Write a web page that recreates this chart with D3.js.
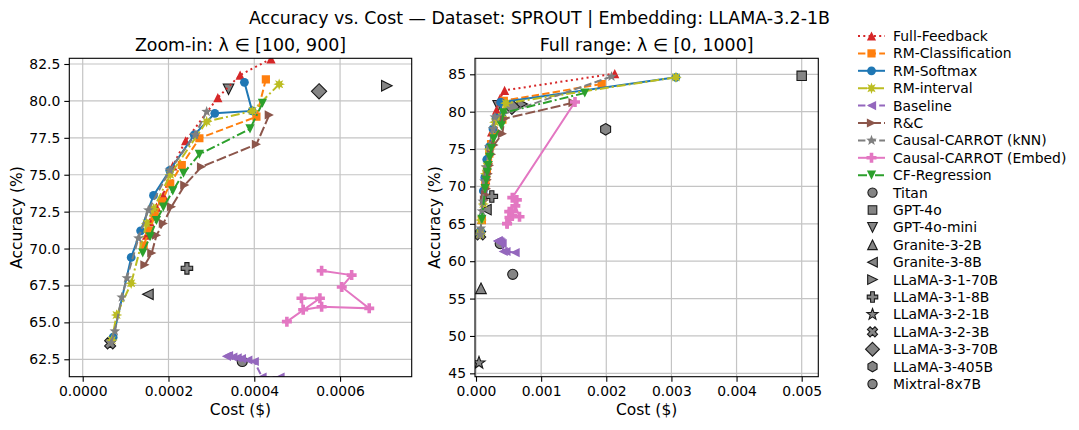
<!DOCTYPE html>
<html><head><meta charset="utf-8">
<script src="https://cdn.jsdelivr.net/npm/d3@7"></script>
<style>body{margin:0;background:#fff;} text{font-family:"DejaVu Sans",sans-serif;fill:#000;}</style>
</head><body><svg id="c" width="1079" height="430"></svg>
<script>
// ---------------- DATA ----------------
// lambda values: 0,100,...,1000 ; left panel shows lambda 100..900
const lambdas = [0,100,200,300,400,500,600,700,800,900,1000];
// each point: [cost ($), accuracy (%)]
const fullFeedback = [[0.00213,85.1],[0.000439,82.85],[0.000367,81.75],[0.000315,80.22],[0.00024,77.3],[0.00021,75.6],[0.000188,73.6],[0.000172,72.8],[0.000157,71.8],[0.000149,70.9],[0.000085,65.6]];
const rmClassification = [[0.00193,83.7],[0.000427,81.46],[0.000405,78.93],[0.000272,77.47],[0.000231,75.66],[0.000204,74.4],[0.000185,73.2],[0.000168,72.2],[0.000155,71.2],[0.000142,70.2],[0.00009,65.5]];
const rmSoftmax = [[0.00307,84.6],[0.000377,81.26],[0.000395,79.32],[0.000308,79.16],[0.00026,77.7],[0.000203,75.3],[0.000165,73.6],[0.000135,71.2],[0.000113,69.4],[0.000071,64.0],[0.000065,63.7]];
const rmInterval = [[0.00307,84.6],[0.000458,81.13],[0.000396,79.32],[0.000289,78.6],[0.000204,75.0],[0.000165,72.7],[0.000149,71.7],[0.000113,67.65],[0.000079,65.5],[0.000068,63.8],[0.000065,63.6]];
const baseline = [[0.0006,61.15],[0.00046,61.3],[0.000418,61.3],[0.0004,62.35],[0.000385,62.45],[0.00037,62.55],[0.00036,62.6],[0.00035,62.65],[0.00034,62.75],[0.000335,62.7],[0.00033,62.7]];
const rAndC = [[0.00149,81.2],[0.000435,79.05],[0.000405,77.06],[0.000277,75.54],[0.000238,74.3],[0.000207,72.83],[0.000188,71.7],[0.000172,70.9],[0.000161,69.7],[0.000145,68.9],[0.00013,68.2]];
const carrotKnn = [[0.00208,84.7],[0.000289,79.27],[0.000262,77.7],[0.000203,75.3],[0.000153,72.6],[0.00013,70.7],[0.000103,68.0],[0.000091,66.7],[0.000075,64.4],[0.000066,63.6],[0.000064,63.5]];
const carrotEmbed = [[0.00152,81.3],[0.000557,68.5],[0.000627,68.2],[0.000604,67.4],[0.000668,65.95],[0.000557,66.06],[0.000514,65.85],[0.00051,66.63],[0.000553,66.63],[0.000476,65.05],[0.000478,65.0]];
const cfRegression = [[0.00167,82.5],[0.000419,79.84],[0.00039,78.1],[0.000272,76.38],[0.000235,75.1],[0.00021,73.9],[0.000188,72.8],[0.000172,71.9],[0.000157,70.8],[0.00014,69.7],[0.00009,65.6]];

const seriesNames = ["Full-Feedback","RM-Classification","RM-Softmax","RM-interval","Baseline","R&C","Causal-CARROT (kNN)","Causal-CARROT (Embed)","CF-Regression"];
const seriesData = [fullFeedback,rmClassification,rmSoftmax,rmInterval,baseline,rAndC,carrotKnn,carrotEmbed,cfRegression];

const modelNames = ["Titan","GPT-4o","GPT-4o-mini","Granite-3-2B","Granite-3-8B","LLaMA-3-1-70B","LLaMA-3-1-8B","LLaMA-3-2-1B","LLaMA-3-2-3B","LLaMA-3-3-70B","LLaMA-3-405B","Mixtral-8x7B"];
const modelCost = [0.000564,0.005,0.00034,0.000077,0.000152,0.000709,0.000243,0.000046,0.000064,0.000551,0.00199,0.000372];
const modelAcc = [58.24,84.8,80.79,56.37,66.9,81.03,68.66,46.4,63.58,80.65,77.64,62.35];

const leftXTicks = [0,0.0002,0.0004,0.0006];
const leftYTicks = [62.5,65,67.5,70,72.5,75,77.5,80,82.5];
const rightXTicks = [0,0.001,0.002,0.003,0.004,0.005];
const rightYTicks = [45,50,55,60,65,70,75,80,85];

// ---------------- STYLE ----------------
const seriesStyle = [
 {color:"#d62728", dash:"2,3.3", marker:"triUp"},
 {color:"#ff7f0e", dash:"7.4,3.2", marker:"square"},
 {color:"#1f77b4", dash:null, marker:"circle"},
 {color:"#bcbd22", dash:"9,3,2,3", marker:"star8"},
 {color:"#9467bd", dash:"7.4,3.2", marker:"triLeft"},
 {color:"#8c564b", dash:"10,3", marker:"triRight"},
 {color:"#7f7f7f", dash:"7.4,3.2", marker:"star5"},
 {color:"#e377c2", dash:null, marker:"plus"},
 {color:"#2ca02c", dash:"9,3,2,3", marker:"triDown"},
];
const modelMarkers = ["circle","square","triDown","triUp","triLeft","triRight","plus","star5","xfill","diamond","hexagon","circle"];

function poly(pts){return "M"+pts.map(p=>p[0].toFixed(2)+","+p[1].toFixed(2)).join("L")+"Z";}
function starPts(n,ro,ri){const p=[];for(let i=0;i<2*n;i++){const r=i%2?ri:ro;const a=-Math.PI/2+i*Math.PI/n;p.push([r*Math.cos(a),r*Math.sin(a)]);}return p;}
function markerPath(t,k){
  const s=4.6*k;
  switch(t){
    case "circle": {const r=4.4*k;return `M${r},0A${r},${r} 0 1,1 ${-r},0A${r},${r} 0 1,1 ${r},0Z`;}
    case "square": {const h=4.1*k;return poly([[-h,-h],[h,-h],[h,h],[-h,h]]);}
    case "triUp": return poly([[0,-s],[s,s],[-s,s]]);
    case "triDown": return poly([[0,s],[s,-s],[-s,-s]]);
    case "triLeft": return poly([[-s,0],[s,-s],[s,s]]);
    case "triRight": return poly([[s,0],[-s,-s],[-s,s]]);
    case "star5": return poly(starPts(5,5.6*k,2.3*k));
    case "star8": return poly(starPts(8,5.8*k,2.9*k));
    case "diamond": {const d=6.6*k;return poly([[0,-d],[d,0],[0,d],[-d,0]]);}
    case "hexagon": {const p=[];for(let i=0;i<6;i++){const a=-Math.PI/2+i*Math.PI/3;p.push([5*k*Math.cos(a),5*k*Math.sin(a)]);}return poly(p);}
    case "plus": {const a=5*k,b=1.8*k;return poly([[-b,-a],[b,-a],[b,-b],[a,-b],[a,b],[b,b],[b,a],[-b,a],[-b,b],[-a,b],[-a,-b],[-b,-b]]);}
    case "xfill": {const a=5*k,b=1.8*k;const pts=[[-b,-a],[b,-a],[b,-b],[a,-b],[a,b],[b,b],[b,a],[-b,a],[-b,b],[-a,b],[-a,-b],[-b,-b]];const c=Math.SQRT1_2;return poly(pts.map(p=>[(p[0]-p[1])*c,(p[0]+p[1])*c]));}
  }
}

const svg = d3.select("#c");

// suptitle
svg.append("text").attr("x",539.5).attr("y",24).attr("text-anchor","middle").style("font-size","17.4px")
  .text("Accuracy vs. Cost — Dataset: SPROUT | Embedding: LLAMA-3.2-1B");

function panel(opt){
  const {x0,x1,y0,y1,xdom,ydom,xticks,yticks,xfmt,yfmt,title,ylabelX,first,last,id} = opt;
  const x = d3.scaleLinear().domain(xdom).range([x0,x1]);
  const y = d3.scaleLinear().domain(ydom).range([y1,y0]);
  const g = svg.append("g");
  g.append("clipPath").attr("id",id).append("rect").attr("x",x0).attr("y",y0).attr("width",x1-x0).attr("height",y1-y0);
  // grid
  g.append("g").selectAll("line").data(xticks).join("line").attr("x1",d=>x(d)).attr("x2",d=>x(d)).attr("y1",y0).attr("y2",y1)
    .attr("stroke","#c4c4c4").attr("stroke-width",1.2);
  g.append("g").selectAll("line").data(yticks).join("line").attr("y1",d=>y(d)).attr("y2",d=>y(d)).attr("x1",x0).attr("x2",x1)
    .attr("stroke","#c4c4c4").attr("stroke-width",1.2);
  // axes
  const ax = d3.axisBottom(x).tickValues(xticks).tickFormat(xfmt).tickSize(5).tickPadding(4);
  const ay = d3.axisLeft(y).tickValues(yticks).tickFormat(yfmt).tickSize(5).tickPadding(4);
  const gx = g.append("g").attr("transform",`translate(0,${y1})`).call(ax);
  const gy = g.append("g").attr("transform",`translate(${x0},0)`).call(ay);
  [gx,gy].forEach(a=>{a.select(".domain").remove();a.selectAll("text").style("font-size","13.9px").style("font-family","DejaVu Sans");a.selectAll("line").attr("stroke","#000").attr("stroke-width",1.1);});
  // data
  const clip = g.append("g").attr("clip-path",`url(#${id})`);
  clip.append("g").selectAll("path").data(modelNames).join("path")
    .attr("transform",(d,i)=>`translate(${x(modelCost[i])},${y(modelAcc[i])})`)
    .attr("d",(d,i)=>markerPath(modelMarkers[i],1.15)).attr("fill","#858585").attr("stroke","#1a1a1a").attr("stroke-width",1.1);
  seriesData.forEach((arr,i)=>{
    const st = seriesStyle[i];
    const pts = arr.slice(first,last);
    clip.append("path").datum(pts).attr("d",d3.line().x(d=>x(d[0])).y(d=>y(d[1])))
      .attr("fill","none").attr("stroke",st.color).attr("stroke-width",2).attr("stroke-dasharray",st.dash);
    clip.append("g").selectAll("path").data(pts).join("path")
      .attr("transform",d=>`translate(${x(d[0])},${y(d[1])})`).attr("d",markerPath(st.marker,1)).attr("fill",st.color);
  });
  // frame
  g.append("rect").attr("x",x0).attr("y",y0).attr("width",x1-x0).attr("height",y1-y0).attr("fill","none").attr("stroke","#000").attr("stroke-width",1.1);
  // titles
  g.append("text").attr("x",(x0+x1)/2).attr("y",51).attr("text-anchor","middle").style("font-size","17.4px").text(title);
  g.append("text").attr("x",(x0+x1)/2).attr("y",415).attr("text-anchor","middle").style("font-size","15.5px").text("Cost ($)");
  g.append("text").attr("transform",`translate(${ylabelX},${(y0+y1)/2}) rotate(-90)`).attr("text-anchor","middle").style("font-size","15.5px").text("Accuracy (%)");
}

panel({id:"clipL",x0:69.3,x1:411.7,y0:58.3,y1:376.7,xdom:[-0.00003125,0.000767],ydom:[61.32,82.886],
  xticks:leftXTicks,yticks:leftYTicks,xfmt:d3.format(".4f"),yfmt:d3.format(".1f"),
  title:"Zoom-in: λ ∈ [100, 900]",ylabelX:22,first:1,last:10});
panel({id:"clipR",x0:475,x1:818.3,y0:58.3,y1:376.7,xdom:[-0.0000154,0.005255],ydom:[44.55,87.14],
  xticks:rightXTicks,yticks:rightYTicks,xfmt:d3.format(".3f"),yfmt:d3.format("d"),
  title:"Full range: λ ∈ [0, 1000]",ylabelX:440,first:0,last:11});

// legend
const lg = svg.append("g");
const ly0 = 36, ldy = 17.4;
seriesNames.forEach((n,i)=>{
  const st=seriesStyle[i], yy=ly0+i*ldy;
  lg.append("line").attr("x1",858).attr("x2",885).attr("y1",yy).attr("y2",yy).attr("stroke",st.color).attr("stroke-width",2).attr("stroke-dasharray",st.dash);
  lg.append("path").attr("transform",`translate(871.5,${yy})`).attr("d",markerPath(st.marker,1)).attr("fill",st.color);
  lg.append("text").attr("x",893).attr("y",yy+5).style("font-size","13.9px").text(n);
});
modelNames.forEach((n,i)=>{
  const yy=ly0+(i+seriesNames.length)*ldy;
  lg.append("path").attr("transform",`translate(872.5,${yy})`).attr("d",markerPath(modelMarkers[i],1.05)).attr("fill","#858585").attr("stroke","#1a1a1a").attr("stroke-width",1.1);
  lg.append("text").attr("x",893).attr("y",yy+5).style("font-size","13.9px").text(n);
});
</script></body></html>
